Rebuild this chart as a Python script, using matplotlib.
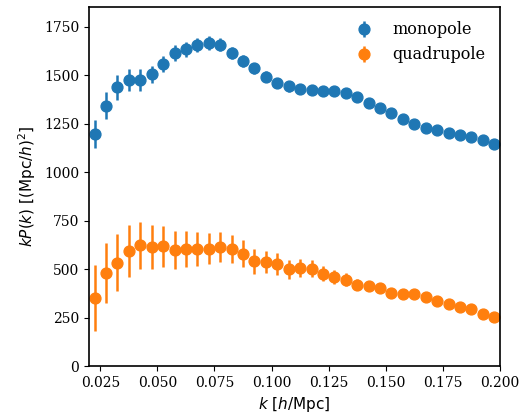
import numpy as np
import matplotlib
matplotlib.use('Agg')
import matplotlib.pyplot as plt

plt.rcParams['font.family'] = 'DejaVu Serif'
plt.rcParams['mathtext.fontset'] = 'dejavusans'

k = 0.0225 + 0.005 * np.arange(36)

mono = [1194, 1343, 1437, 1475, 1475, 1503, 1558, 1613, 1632, 1656, 1667, 1656,
        1614, 1573, 1534, 1492, 1460, 1441, 1429, 1424, 1417, 1417, 1410, 1386,
        1357, 1331, 1304, 1275, 1249, 1228, 1215, 1201, 1189, 1180, 1163, 1146]
mono_err = [72, 70, 65, 56, 55, 45, 41, 40, 37, 37, 36, 33,
            31, 30, 29, 28, 27, 26, 25, 24, 24, 23, 22, 21,
            21, 20, 20, 19, 18, 18, 17, 17, 16, 16, 15, 15]

quad = [352, 480, 534, 592, 623, 614, 618, 600, 602, 602, 605, 614,
        605, 580, 540, 537, 525, 499, 506, 503, 477, 460, 446, 420,
        412, 403, 379, 374, 371, 357, 336, 322, 305, 292, 271, 254]
quad_err = [169, 154, 146, 133, 122, 111, 105, 97, 93, 87, 81, 77,
            72, 70, 63, 57, 56, 50, 47, 45, 38, 35, 32, 29,
            27, 25, 24, 22, 21, 20, 19, 18, 17, 16, 15, 15]

fig = plt.figure(figsize=(5.29, 4.18), dpi=100)
ax = fig.add_axes([0.168, 0.124, 0.777, 0.859])

ax.errorbar(k, mono, yerr=mono_err, fmt='o', ms=7.8, elinewidth=1.8, label='monopole')
ax.errorbar(k, quad, yerr=quad_err, fmt='o', ms=7.8, elinewidth=1.8, label='quadrupole')

ax.set_xlim(0.02, 0.2)
ax.set_ylim(0, 1850)
ax.set_xticks([0.025, 0.05, 0.075, 0.1, 0.125, 0.15, 0.175, 0.2])
ax.set_yticks([0, 250, 500, 750, 1000, 1250, 1500, 1750])
for s in ax.spines.values():
    s.set_linewidth(1.2)
ax.set_xlabel(r'$k$ [$h$/Mpc]', family='DejaVu Sans', size=11)
ax.set_ylabel(r'$kP(k)$ [(Mpc/$h$)$^2$]', family='DejaVu Sans', size=11)
ax.legend(frameon=False, loc='upper right', fontsize=11.5)

fig.savefig('out.png', dpi=100)
